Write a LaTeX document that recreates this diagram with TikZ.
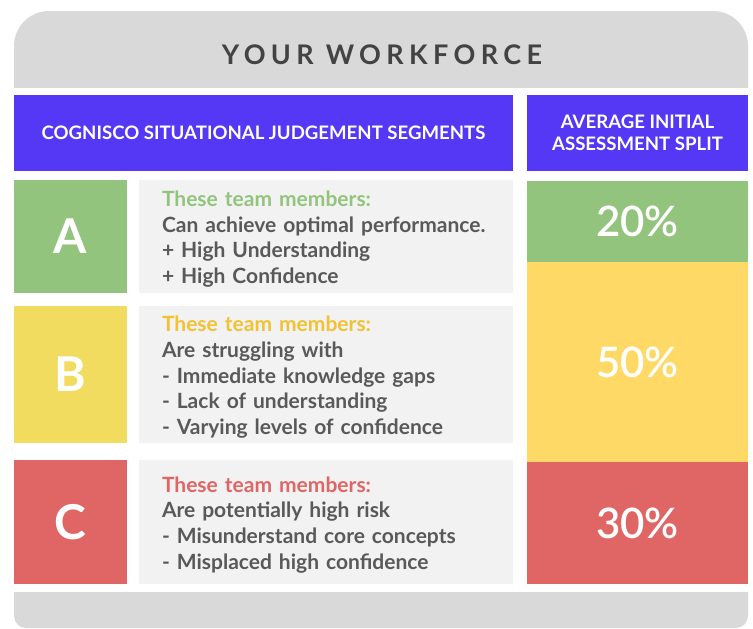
\documentclass[tikz,border=0pt]{standalone}
\usepackage{fontspec}
\setmainfont{Lato}
\newfontfamily\latosemi{Lato Semibold}
\usetikzlibrary{positioning}
\definecolor{panelgray}{HTML}{D9D9D9}
\definecolor{titlegray}{HTML}{434343}
\definecolor{hdrblue}{HTML}{5438F5}
\definecolor{notegray}{HTML}{F2F2F2}
\definecolor{bodygray}{HTML}{595959}
\definecolor{grnA}{HTML}{93C47D}
\definecolor{yelB}{HTML}{F1DC5F}
\definecolor{yelR}{HTML}{FFD966}
\definecolor{yelT}{HTML}{F1C232}
\definecolor{redC}{HTML}{E06666}
% first line of every note, with a little extra room above it
\newcommand{\notehead}[1]{\rule{0pt}{21pt}{\color{#1}These team members:}}

\begin{document}
\begin{tikzpicture}[x=1pt,y=-1pt,
    cell/.style={inner sep=0pt,outer sep=0pt,text=white},
    head/.style={cell,fill=hdrblue,minimum height=76pt,align=center,
      font=\fontsize{18.6}{22}\selectfont\bfseries},
    letter/.style={cell,minimum width=113pt,font=\fontsize{48}{48}\selectfont\bfseries},
    note/.style={cell,fill=notegray,text width=328pt,inner xsep=23pt,align=left,
      text=bodygray,font=\fontsize{21}{25.6}\selectfont\bfseries},
    pct/.style={cell,minimum width=221pt,font=\fontsize{42}{42}\latosemi}]
  \useasboundingbox (0,0) rectangle (753,629);
  % grey band on top and at the foot, rounded on the outside only
  \begin{scope}
    \clip (0,0) rectangle (753,87);
    \fill[panelgray,rounded corners=35pt] (14,11) rectangle (748,160);
  \end{scope}
  \begin{scope}
    \clip (0,592) rectangle (753,629);
    \fill[panelgray,rounded corners=12pt] (14,540) rectangle (748,628);
  \end{scope}
  \node[text=titlegray,font=\fontsize{27}{32}\selectfont\bfseries\addfontfeatures{LetterSpace=20}]
    (title) at (382,55) {YOUR WORKFORCE};

  % column heads
  \node[head,minimum width=499pt,anchor=north west] (segHead) at (14,95)
    {COGNISCO SITUATIONAL JUDGEMENT SEGMENTS};
  \node[head,minimum width=221pt,right=14pt of segHead] (splitHead)
    {AVERAGE INITIAL\\ASSESSMENT SPLIT};

  % segments
  \node[letter,fill=grnA,minimum height=113pt,anchor=north west] (letA) at (14,180) {A};
  \node[note,minimum height=113pt,right=12pt of letA] (txtA)
    {\notehead{grnA}\\Can achieve optimal performance.\\
     + High Understanding\\+ High Confidence};
  \node[letter,fill=yelB,minimum height=137pt,below=13pt of letA] (letB) {B};
  \node[note,minimum height=137pt,right=12pt of letB] (txtB)
    {\notehead{yelT}\\Are struggling with\\- Immediate knowledge gaps\\
     - Lack of understanding\\- Varying levels of confidence};
  \node[letter,fill=redC,minimum height=124pt,below=17pt of letB] (letC) {C};
  \node[note,minimum height=124pt,right=12pt of letC] (txtC)
    {\notehead{redC}\\Are potentially high risk\\
     - Misunderstand core concepts\\- Misplaced high confidence};

  % split bar
  \node[pct,fill=grnA,minimum height=81pt,anchor=north west] (pctA) at (527,181) {20\%};
  \node[pct,fill=yelR,minimum height=200pt,below=0pt of pctA] (pctB) {50\%};
  \node[pct,fill=redC,minimum height=122pt,below=0pt of pctB] (pctC) {30\%};
\end{tikzpicture}
\end{document}
